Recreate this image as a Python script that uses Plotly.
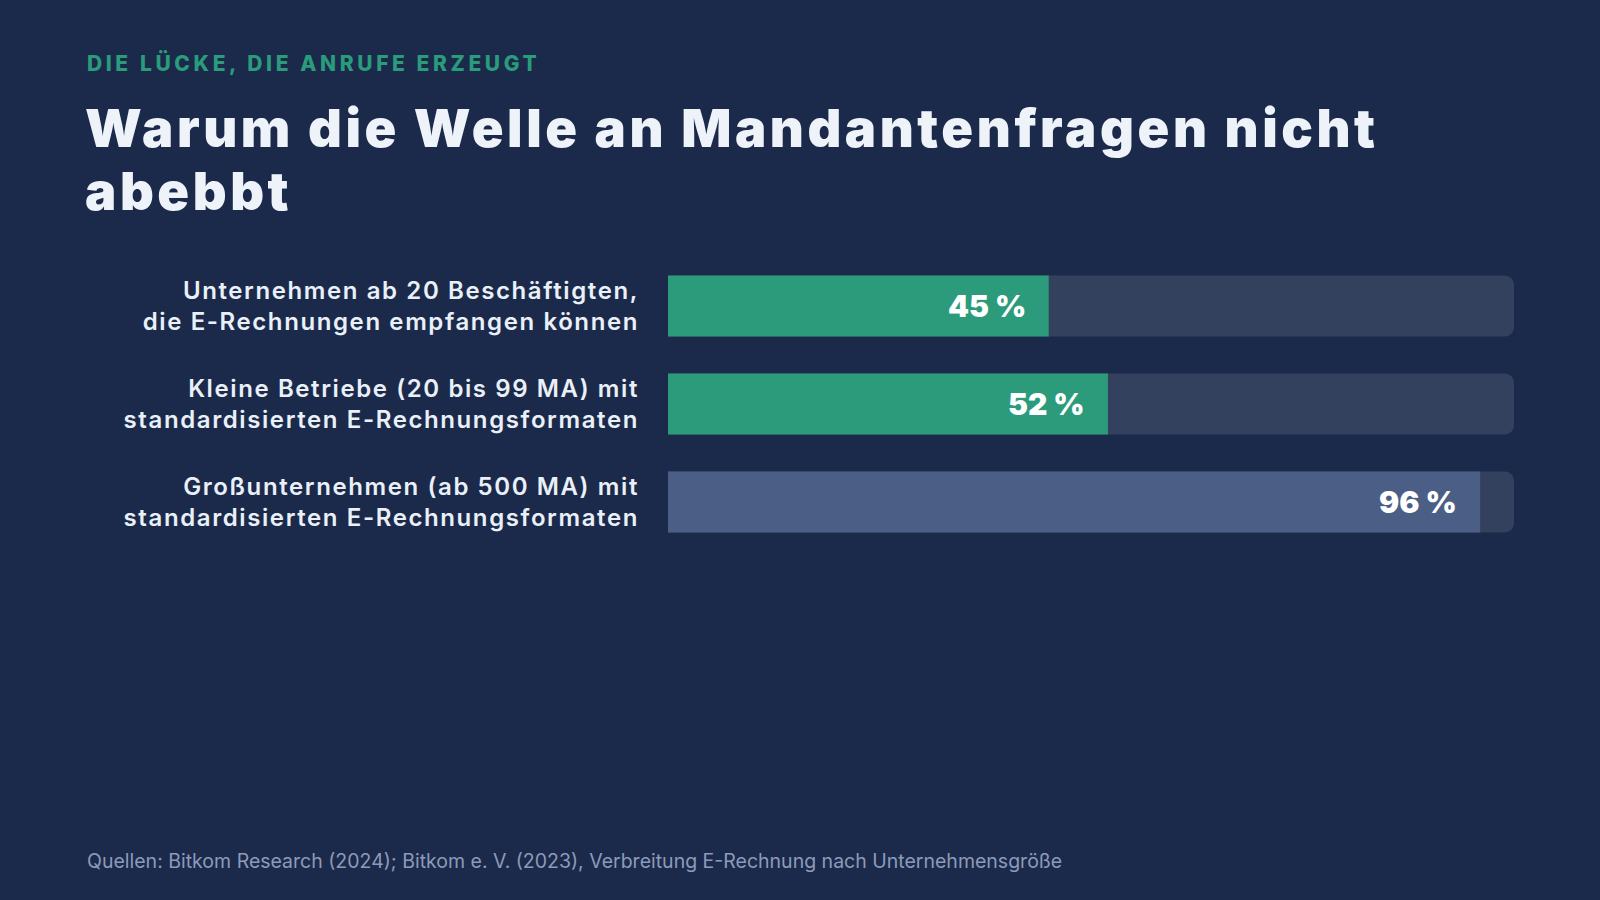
import plotly.graph_objects as go

categories = [
    "Unternehmen ab 20 Beschäftigten,<br>die E-Rechnungen empfangen können",
    "Kleine Betriebe (20 bis 99 MA) mit<br>standardisierten E-Rechnungsformaten",
    "Großunternehmen (ab 500 MA) mit<br>standardisierten E-Rechnungsformaten",
]
values = [45, 52, 96]
value_labels = ["45 %", "52 %", "96 %"]
track_max = [100, 100, 100]
bar_colors = ["#2c9b7b", "#2c9b7b", "#4b5f86"]

subtitle = "DIE LÜCKE, DIE ANRUFE ERZEUGT"
title_lines = ["Warum die Welle an Mandantenfragen nicht", "abebbt"]
source = "Quellen: Bitkom Research (2024); Bitkom e. V. (2023), Verbreitung E-Rechnung nach Unternehmensgröße"

BG = "#1b2a4a"
W, H = 1600, 900
L, R, T, B = 668, 86, 257, 349
PW, PH = W - L - R, H - T - B


def px(xp):
    return (xp - L) / PW


def py(yp):
    return 1 - (yp - T) / PH


def spaced(text, ls):
    return '<span style="letter-spacing:%.2fpx">%s</span>' % (ls, text)


fig = go.Figure()
fig.add_trace(go.Bar(
    y=categories, x=track_max, orientation="h",
    marker=dict(color="#33415f", cornerradius=9, line=dict(width=0)),
    hoverinfo="skip", showlegend=False,
))
fig.add_trace(go.Bar(
    y=categories, x=values, orientation="h",
    marker=dict(color=bar_colors, cornerradius=9, line=dict(width=0)),
    hoverinfo="skip", showlegend=False,
))

for c, v, t in zip(categories, values, value_labels):
    fig.add_annotation(
        x=v, y=c, xref="x", yref="y", text=t, showarrow=False,
        xanchor="right", xshift=-21, yshift=0,
        font=dict(family="Inter", size=30, color="#ffffff", weight=900),
    )

fig.add_annotation(
    x=px(85), y=py(63), xref="paper", yref="paper", xanchor="left", yanchor="middle",
    text=spaced(subtitle, 3.6), showarrow=False,
    font=dict(family="Inter", size=21, color="#2a9b7b", weight=800),
)
for line, yy in zip(title_lines, [127.8, 191.1]):
    fig.add_annotation(
        x=px(84), y=py(yy), xref="paper", yref="paper", xanchor="left", yanchor="middle",
        text=spaced(line, 3.55), showarrow=False, align="left", borderpad=0,
        font=dict(family="Inter", size=52.5, color="#eef3fa", weight=900),
    )
fig.add_annotation(
    x=px(85), y=py(861), xref="paper", yref="paper", xanchor="left", yanchor="middle",
    text=source, showarrow=False, align="left",
    font=dict(family="Inter", size=19.5, color="#8d9aba", weight=400),
)

fig.update_layout(
    width=W, height=H,
    paper_bgcolor=BG, plot_bgcolor=BG,
    margin=dict(l=L, r=R, t=T, b=B, autoexpand=False),
    barmode="overlay", bargap=0.378,
    xaxis=dict(range=[0, 100], visible=False, fixedrange=True),
    yaxis=dict(
        autorange="reversed", showgrid=False, zeroline=False, showline=False,
        ticks="", ticklabelstandoff=28,
        tickfont=dict(family="Inter", size=24, color="#eaf0f8", weight=600),
        tickmode="array", tickvals=categories,
        ticktext=[spaced(c, 1.6) for c in categories],
    ),
    showlegend=False,
)

fig.write_html("out.html", config={"displayModeBar": False})
